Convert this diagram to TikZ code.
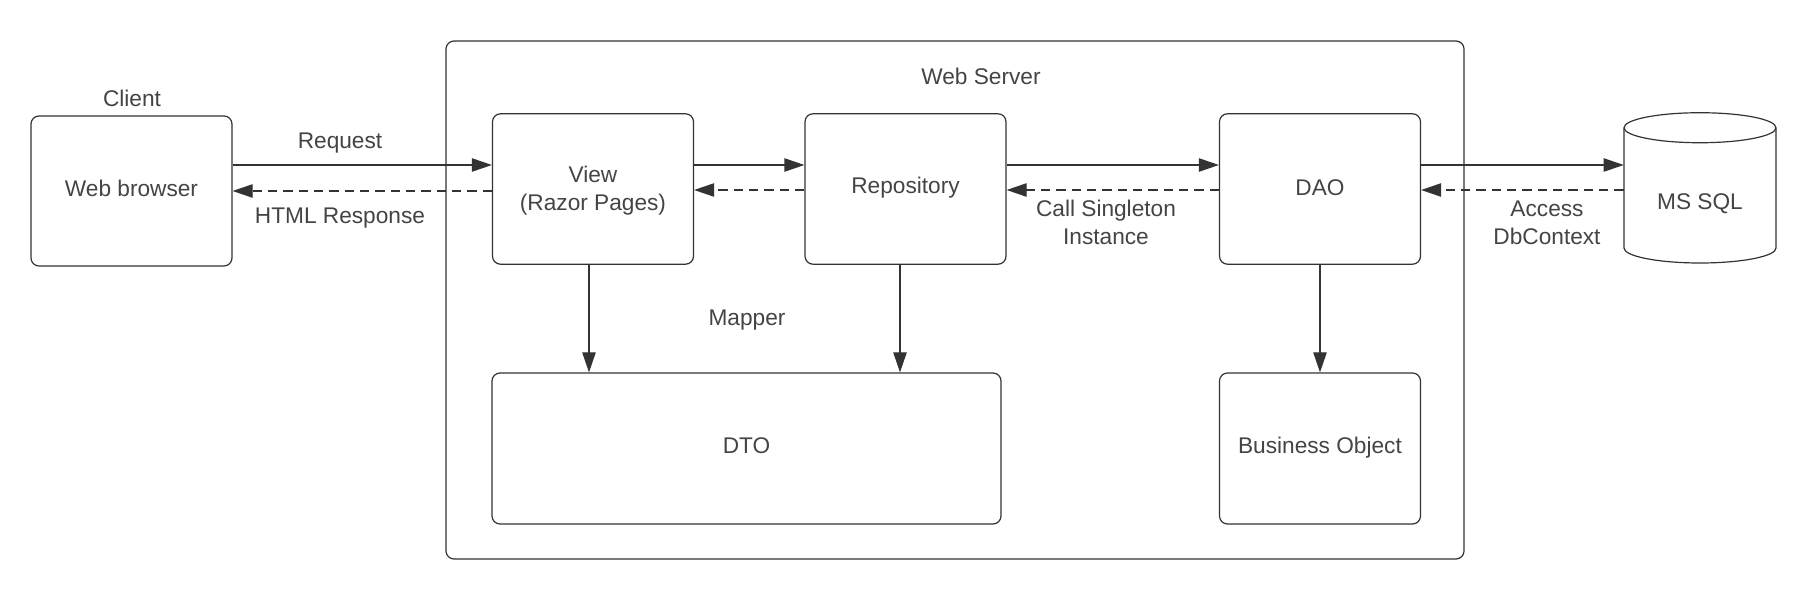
\documentclass[tikz,border=0pt]{standalone}
\usepackage{fontspec}
\setmainfont{Liberation Sans}
\usetikzlibrary{arrows.meta}
\definecolor{linec}{HTML}{333333}
\definecolor{textc}{HTML}{444444}
\begin{document}
\begin{tikzpicture}[x=0.75pt,y=-0.75pt,
  every node/.style={font=\fontsize{17pt}{21pt}\selectfont, text=textc, align=center},
  box/.style={draw=linec, line width=0.9pt, rounded corners=6pt, inner sep=0pt},
  lbl/.style={inner sep=0pt},
  arr/.style={draw=linec, line width=0.9pt, -{Triangle[length=15pt,width=10pt]}},
  dsh/.style={arr, dash pattern=on 7pt off 4.5pt}]
\useasboundingbox (0,0) rectangle (1800,605);
% outer web server box
\node[box, minimum width=763.5pt, minimum height=388.5pt] (ws) at (955,300) {};
\node[lbl] (wsl) at (981,76) {Web Server};
% boxes
\node[box, minimum width=150.75pt, minimum height=112.5pt] (browser) at (131.5,191) {};
\node[lbl] (browsert) at (131.5,188) {Web browser};
\node[lbl] (client) at (132,98) {Client};
\node[box, minimum width=150.75pt, minimum height=112.8pt] (view) at (593,189) {};
\node[lbl] (viewt) at (593,190.5) {View\\(Razor Pages)};
\node[box, minimum width=150.75pt, minimum height=112.8pt] (repo) at (905.5,189) {};
\node[lbl] (repot) at (905.5,188) {Repository};
\node[box, minimum width=150.75pt, minimum height=112.8pt] (dao) at (1320,189) {};
\node[lbl] (daot) at (1320,188) {DAO};
\node[box, minimum width=381.75pt, minimum height=113.25pt] (dto) at (746.5,448.5) {};
\node[lbl] (dtot) at (746.5,446) {DTO};
\node[box, minimum width=150.75pt, minimum height=113.25pt] (bo) at (1320,448.5) {};
\node[lbl] (bot) at (1320,448) {Business Object};
% database cylinder
\node[inner sep=0pt, minimum width=114pt, minimum height=112.5pt] (db) at (1700,188) {};
\draw[linec, line width=0.9pt] (db.north) ++(0,15) ellipse [x radius=57pt, y radius=11.25pt];
\draw[linec, line width=0.9pt] (1624,128) -- (1624,248) arc[start angle=180, end angle=360, x radius=57pt, y radius=11.25pt] -- (1776,128);
\node[lbl] (dbt) at (1700,204) {MS SQL};
% horizontal connectors
\draw[arr] (browser.east |- 0,165) -- (view.west |- 0,165);
\draw[dsh] (view.west |- 0,191) -- (browser.east |- 0,191);
\draw[arr] (view.east |- 0,165) -- (repo.west |- 0,165);
\draw[dsh] (repo.west |- 0,190) -- (view.east |- 0,190);
\draw[arr] (repo.east |- 0,165) -- (dao.west |- 0,165);
\draw[dsh] (dao.west |- 0,190) -- (repo.east |- 0,190);
\draw[arr] (dao.east |- 0,165) -- (db.west |- 0,165);
\draw[dsh] (db.west |- 0,190) -- (dao.east |- 0,190);
% vertical connectors
\draw[arr] (view.south -| 589,0) -- (dto.north -| 589,0);
\draw[arr] (repo.south -| 900,0) -- (dto.north -| 900,0);
\draw[arr] (dao.south) -- (bo.north);
% labels
\node[lbl] (req) at (340,143) {Request};
\node[lbl] (resp) at (340,218) {HTML Response};
\node[lbl] (mapper) at (747,320) {Mapper};
\node[lbl] (call) at (1106,222) {Call Singleton\\Instance};
\node[lbl] (acc) at (1547,223) {Access\\DbContext};
\end{tikzpicture}
\end{document}
